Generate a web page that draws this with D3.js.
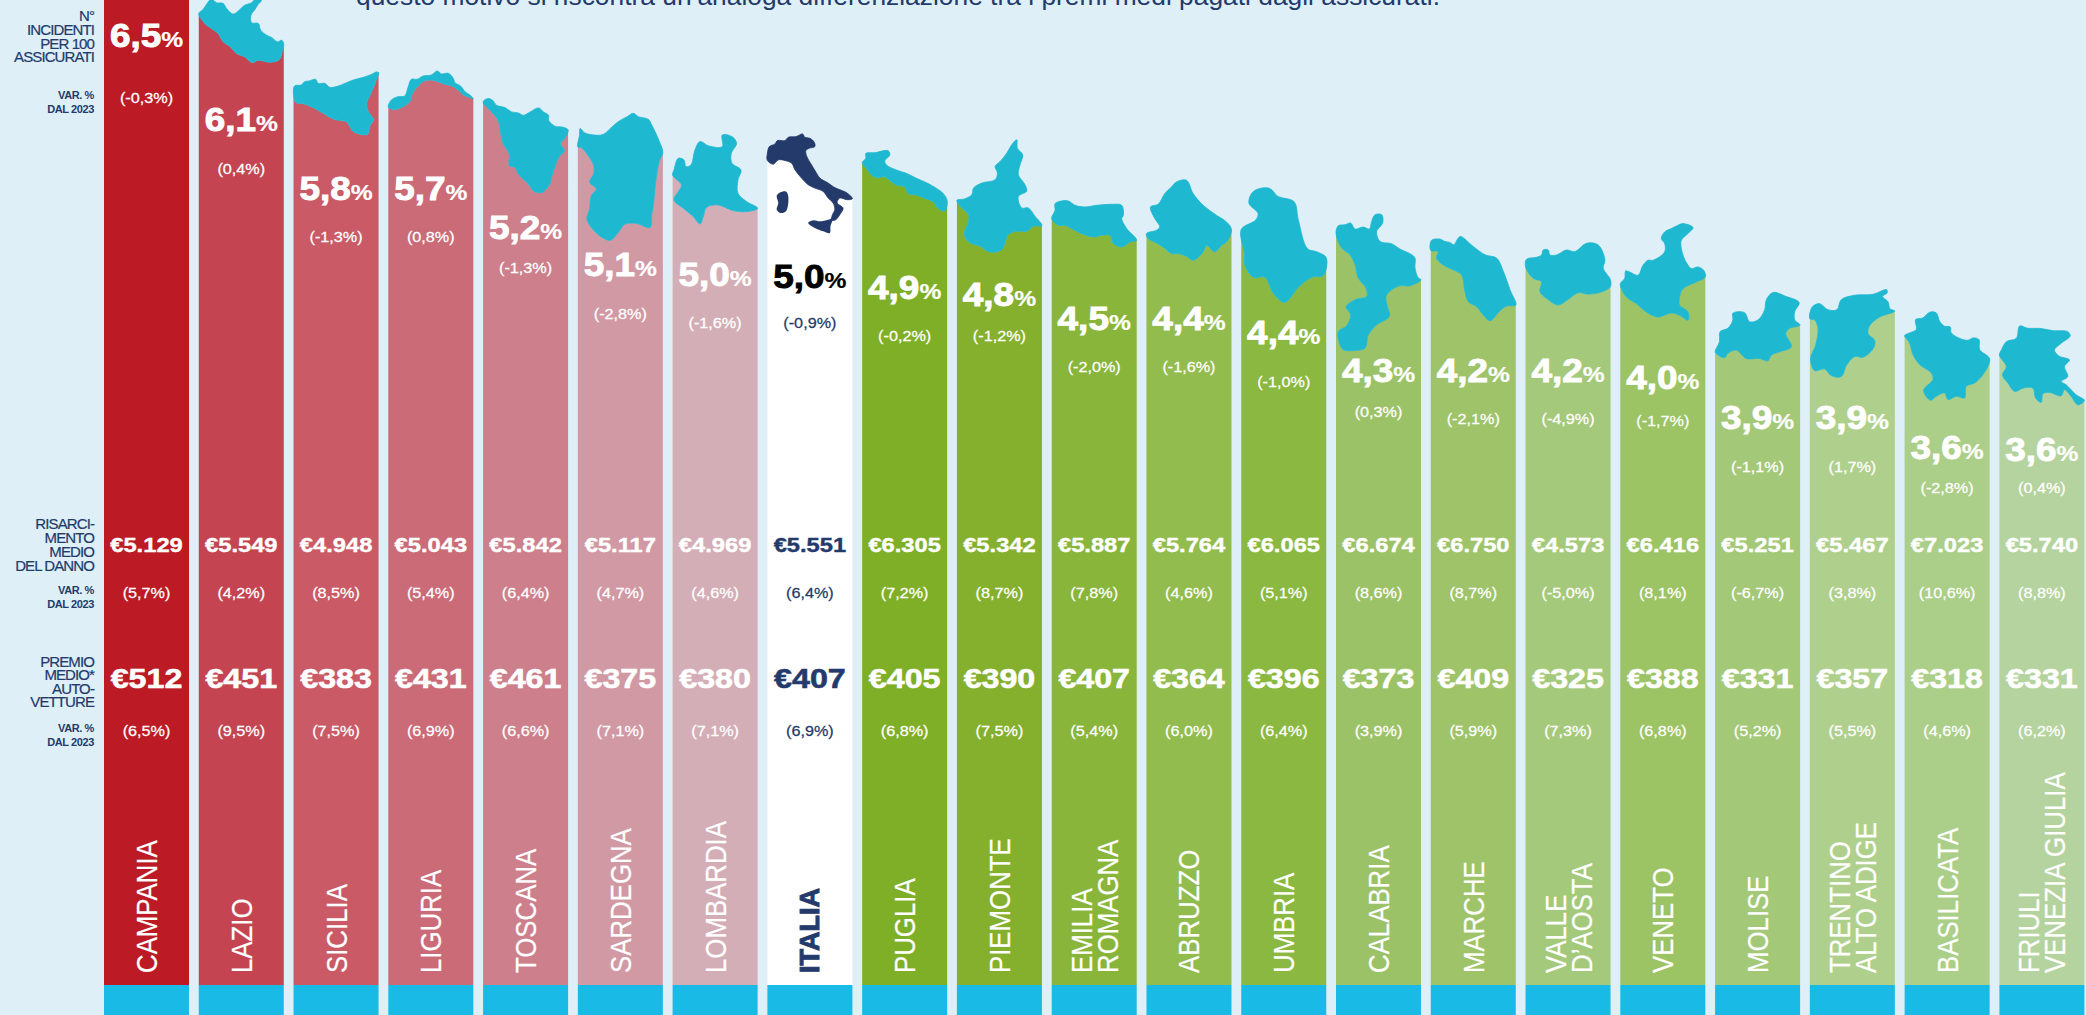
<!DOCTYPE html>
<html>
<head>
<meta charset="utf-8">
<script src="https://cdn.jsdelivr.net/npm/d3@7"></script>
<style>
  html, body { margin: 0; padding: 0; background: #DEEFF7; overflow: hidden; }
  text { font-family: "Liberation Sans", Arial, sans-serif; }
</style>
</head>
<body>
<div id="chart"></div>
<script>
var regions = ["CAMPANIA","LAZIO","SICILIA","LIGURIA","TOSCANA","SARDEGNA","LOMBARDIA","ITALIA","PUGLIA","PIEMONTE","EMILIA|ROMAGNA","ABRUZZO","UMBRIA","CALABRIA","MARCHE","VALLE|D’AOSTA","VENETO","MOLISE","TRENTINO|ALTO ADIGE","BASILICATA","FRIULI|VENEZIA GIULIA"];

// n. incidenti per 100 assicurati + var. %
var rate = [6.5,6.1,5.8,5.7,5.2,5.1,5.0,5.0,4.9,4.8,4.5,4.4,4.4,4.3,4.2,4.2,4.0,3.9,3.9,3.6,3.6];
var rateVar = [-0.3,0.4,-1.3,0.8,-1.3,-2.8,-1.6,-0.9,-0.2,-1.2,-2.0,-1.6,-1.0,0.3,-2.1,-4.9,-1.7,-1.1,1.7,-2.8,0.4];
// risarcimento medio del danno + var. %
var claim = [5129,5549,4948,5043,5842,5117,4969,5551,6305,5342,5887,5764,6065,6674,6750,4573,6416,5251,5467,7023,5740];
var claimVar = [5.7,4.2,8.5,5.4,6.4,4.7,4.6,6.4,7.2,8.7,7.8,4.6,5.1,8.6,8.7,-5.0,8.1,-6.7,3.8,10.6,8.8];
// premio medio autovetture + var. %
var premium = [512,451,383,431,461,375,380,407,405,390,407,364,396,373,409,325,388,331,357,318,331];
var premiumVar = [6.5,9.5,7.5,6.9,6.6,7.1,7.1,6.9,6.8,7.5,5.4,6.0,6.4,3.9,5.9,7.3,6.8,5.2,5.5,4.6,6.2];

// how tall things stand, in % of the chart height
var barHeight = [102,100.2,92.7,92.8,90.0,88.5,86.3,86.4,84.7,85.8,79.6,81.7,80.9,78.2,76.0,75.3,77.3,70.3,70.6,68.3,66.9];
var rateHeight = [96.4,87.9,80.9,80.9,76.9,73.2,72.2,72.0,70.8,70.1,67.7,67.7,66.3,62.4,62.4,62.4,61.7,57.6,57.6,54.6,54.4];
var noteHeight = [90.1,82.9,76.0,76.0,72.8,68.2,67.2,67.2,65.9,65.9,62.8,62.8,61.3,58.2,57.5,57.5,57.3,52.6,52.6,50.5,50.5];

var barColors = ["#BC1A24","#C44551","#C95A66","#CA6B77","#CD808B","#D199A4","#D4AEB6","#FFFFFF","#7FAF27","#84B02E","#89B53B","#92BC4E","#8AB840","#9CC268","#9EC368","#A5C97B","#9CC364","#A3C877","#AFD08C","#ABCE88","#B5D39E"];

var rowLabels = [
  {big: ["N°","INCIDENTI","PER 100","ASSICURATI"], bigY: [16,30,44,57], small: [95,109]},
  {big: ["RISARCI-","MENTO","MEDIO","DEL DANNO"], bigY: [524,538,552,566], small: [590,604]},
  {big: ["PREMIO","MEDIO*","AUTO-","VETTURE"], bigY: [662,675,689,702], small: [728,742]}
];

// region silhouettes, clockwise from the left edge of the bar
var outlines = [
  null,
  [[27,40],[40,28],[52,10],[65,-3],[80,8],[100,10],[110,25],[130,42],[150,28],[165,15],[185,8],[200,-6],[214,2],[205,12],[195,28],[183,45],[185,68],[205,70],[212,90],[230,105],[245,112],[262,125],[275,120],[281,133],[277,150],[268,178],[240,186],[205,180],[187,187],[165,170],[140,160],[122,140],[100,125],[85,100],[65,85],[45,70]],
  [[312,285],[315,258],[335,255],[345,245],[358,243],[378,238],[385,250],[405,250],[420,262],[445,258],[470,248],[490,240],[520,232],[540,225],[560,216],[565,218],[555,250],[540,285],[530,310],[535,335],[550,358],[540,375],[532,402],[505,400],[488,392],[470,365],[435,358],[410,345],[385,330],[365,320],[340,310],[320,308]],
  [[596,322],[605,300],[625,290],[645,288],[655,262],[665,238],[682,238],[700,228],[725,225],[742,213],[755,222],[775,220],[790,235],[795,248],[812,258],[825,275],[840,285],[850,296],[838,292],[820,285],[805,270],[785,258],[765,253],[745,245],[720,240],[700,245],[682,262],[668,280],[660,305],[640,320],[615,328]],
  [[880,305],[895,295],[908,300],[920,315],[945,322],[965,335],[985,338],[1000,345],[1020,335],[1045,323],[1060,335],[1075,345],[1075,360],[1095,378],[1115,380],[1133,388],[1122,415],[1110,430],[1122,450],[1105,470],[1095,495],[1085,525],[1078,550],[1055,575],[1030,570],[1015,550],[985,520],[975,500],[958,495],[958,460],[940,430],[932,395],[925,360],[905,335]],
  [[1165,440],[1170,405],[1172,385],[1185,398],[1215,405],[1240,403],[1262,385],[1285,365],[1312,350],[1330,340],[1345,350],[1375,358],[1385,375],[1395,395],[1408,425],[1418,457],[1408,480],[1400,520],[1395,560],[1390,610],[1385,640],[1380,680],[1340,668],[1305,670],[1285,695],[1262,718],[1235,708],[1205,680],[1192,655],[1200,625],[1205,585],[1220,565],[1200,545],[1212,520],[1212,495],[1195,465],[1175,442]],
  [[1448,525],[1452,510],[1465,475],[1482,480],[1488,500],[1503,495],[1515,450],[1530,425],[1557,438],[1597,440],[1597,405],[1626,410],[1640,430],[1624,460],[1626,490],[1653,510],[1644,540],[1644,580],[1670,605],[1703,625],[1670,635],[1630,632],[1584,615],[1550,622],[1540,650],[1530,672],[1510,650],[1480,625],[1452,600],[1465,575],[1475,555]],
  [[22,92],[22,70],[28,50],[45,42],[52,32],[75,32],[85,22],[108,20],[128,12],[135,22],[150,25],[162,35],[165,50],[148,55],[138,62],[140,78],[155,105],[170,130],[180,145],[205,160],[222,172],[235,178],[262,190],[278,207],[262,210],[240,205],[232,220],[250,235],[240,255],[228,270],[215,272],[218,255],[225,240],[220,220],[205,205],[190,185],[165,175],[145,165],[125,145],[105,120],[95,100],[75,92],[55,90],[40,103]],
  [[307,98],[318,85],[318,70],[345,68],[385,62],[390,75],[375,92],[380,105],[410,120],[440,130],[470,145],[500,158],[530,175],[550,190],[562,212],[555,243],[535,235],[520,215],[495,205],[470,195],[445,190],[435,170],[410,165],[395,155],[375,140],[350,143],[330,130],[320,115]],
  [[590,212],[612,208],[635,195],[640,175],[665,160],[705,150],[712,130],[705,110],[720,95],[740,70],[755,45],[770,30],[772,55],[788,75],[780,105],[775,135],[795,165],[800,185],[775,200],[785,235],[805,235],[825,260],[846,288],[820,290],[800,305],[770,305],[745,315],[725,360],[690,368],[660,350],[630,340],[612,315],[625,275],[625,255],[605,235]],
  [[875,265],[885,240],[885,220],[905,212],[925,212],[945,225],[975,230],[1010,225],[1060,222],[1085,225],[1090,255],[1085,265],[1100,295],[1130,330],[1110,335],[1085,350],[1060,340],[1050,315],[1025,315],[1000,320],[960,308],[935,295],[915,285],[895,285]],
  [[1160,310],[1190,300],[1200,290],[1185,265],[1172,230],[1195,222],[1215,190],[1235,170],[1250,155],[1280,150],[1300,190],[1330,225],[1370,255],[1400,275],[1415,298],[1400,335],[1385,345],[1365,365],[1340,345],[1330,365],[1300,390],[1280,378],[1255,370],[1235,370],[1210,350],[1190,338],[1165,325]],
  [[1624,688],[1667,660],[1674,640],[1647,610],[1660,575],[1707,565],[1734,590],[1781,605],[1794,660],[1821,745],[1850,755],[1877,772],[1868,825],[1834,830],[1794,860],[1754,905],[1721,880],[1694,830],[1660,830],[1635,795],[1634,760]],
  [[18,100],[25,78],[45,75],[62,70],[75,88],[100,82],[118,88],[125,65],[135,45],[155,45],[158,70],[140,95],[150,125],[185,132],[210,148],[245,165],[255,175],[255,205],[265,235],[273,240],[240,258],[210,258],[185,270],[168,290],[172,320],[178,350],[140,375],[115,405],[105,445],[75,452],[40,450],[28,430],[25,395],[50,378],[62,345],[48,322],[75,300],[110,290],[108,265],[85,235],[75,195],[60,165],[35,145]],
  [[303,152],[305,122],[330,118],[345,125],[360,128],[372,135],[385,115],[392,110],[430,140],[465,165],[500,175],[520,215],[540,270],[557,315],[530,318],[510,332],[480,362],[460,345],[440,320],[415,305],[405,275],[395,225],[370,210],[340,195],[320,175],[325,155]],
  [[587,200],[590,178],[620,172],[635,165],[640,150],[655,150],[660,165],[680,165],[710,150],[735,155],[770,130],[805,135],[825,180],[820,205],[842,240],[840,262],[800,280],[770,282],[745,278],[715,298],[685,315],[650,295],[630,275],[635,245],[610,235]],
  [[872,250],[885,235],[888,212],[900,215],[925,225],[940,195],[955,180],[970,180],[1005,155],[1005,130],[995,115],[1005,95],[1025,85],[1045,75],[1060,70],[1090,82],[1075,100],[1055,120],[1055,145],[1062,170],[1072,190],[1085,205],[1105,200],[1122,210],[1127,230],[1100,245],[1060,265],[1050,290],[1050,315],[1075,335],[1075,360],[1050,345],[1025,338],[985,350],[950,335],[920,310],[890,290],[875,265]],
  [[47,245],[60,215],[62,185],[85,175],[100,150],[100,130],[135,128],[150,155],[175,150],[195,120],[200,90],[220,68],[260,80],[298,98],[285,125],[285,150],[301,165],[270,175],[258,190],[275,230],[240,245],[215,255],[205,272],[180,265],[140,265],[110,240],[85,250],[75,263],[50,250]],
  [[331,145],[338,110],[360,100],[385,118],[412,118],[425,88],[465,75],[520,72],[560,58],[562,68],[548,78],[565,95],[570,115],[585,122],[540,140],[510,165],[505,190],[525,210],[520,235],[490,260],[465,258],[440,285],[425,318],[395,315],[375,295],[345,300],[333,265],[348,225],[355,190],[355,170],[345,148]],
  [[615,198],[630,190],[650,180],[648,150],[670,145],[690,128],[710,130],[720,155],[735,170],[752,172],[755,190],[790,210],[805,212],[820,205],[838,210],[840,240],[870,268],[850,315],[825,340],[800,350],[795,385],[770,380],[745,390],[735,370],[710,380],[692,392],[672,362],[700,330],[695,310],[660,285],[640,255],[630,220]],
  [[899,255],[905,240],[920,215],[950,205],[960,168],[985,175],[1020,175],[1060,182],[1105,185],[1112,198],[1085,220],[1065,240],[1078,258],[1110,270],[1095,290],[1105,320],[1085,335],[1100,345],[1130,375],[1155,392],[1135,405],[1115,380],[1095,360],[1085,378],[1050,368],[1030,372],[1025,398],[1008,385],[1000,355],[970,355],[945,365],[925,340],[908,315],[920,290]]
];
var italyIslands = [
  [[50,198],[60,188],[78,185],[85,200],[78,245],[62,250],[50,240],[55,220]],
  [[145,280],[160,272],[180,275],[205,270],[218,268],[212,290],[210,310],[190,305],[165,295]]
];

var NAVY = "#233A6B", CYAN = "#1EB8D1", STRIP = "#19BAE5";
var width = 2086, height = 1015, baseline = 985;

var it = d3.formatLocale({decimal: ",", thousands: ".", grouping: [3], currency: ["€",""], minus: "-"});
var fmtRate = it.format(".1f"), fmtEuro = it.format(",d");
var fmtVar = function(v) { return "(" + fmtRate(v) + "%)"; };

var x = d3.scaleBand().domain(regions).range([104, 2084.4]).paddingInner(0.103).paddingOuter(0);
var y = d3.scaleLinear().domain([0, 100]).range([baseline, 0]);
var closedShape = d3.line().curve(d3.curveCatmullRomClosed.alpha(0.5));
var openShape = d3.line().curve(d3.curveCatmullRom.alpha(0.5));

var svg = d3.select("#chart").append("svg")
    .attr("width", width)
    .attr("height", height)
    .style("display", "block");

svg.append("text")
    .attr("x", 356).attr("y", 4.7)
    .attr("font-size", 26)
    .attr("fill", NAVY)
    .attr("textLength", 1084)
    .attr("lengthAdjust", "spacingAndGlyphs")
    .text("questo motivo si riscontra un’analoga differenziazione tra i premi medi pagati dagli assicurati.");

// left hand row titles
rowLabels.forEach(function(row) {
  row.big.forEach(function(t, i) {
    svg.append("text").attr("x", 94).attr("y", row.bigY[i] + 5.4)
        .attr("text-anchor", "end").attr("font-size", 15).attr("fill", NAVY)
        .attr("stroke", NAVY).attr("stroke-width", 0.2)
        .attr("letter-spacing", "-0.9")
        .text(t);
  });
  ["VAR. %", "DAL 2023"].forEach(function(t, i) {
    svg.append("text").attr("x", 94).attr("y", row.small[i] + 4)
        .attr("text-anchor", "end").attr("font-size", 11).attr("font-weight", "bold").attr("fill", NAVY)
        .attr("letter-spacing", "-0.4")
        .text(t);
  });
});

// maps a traced outline onto the band of its region
function placer(i) {
  var pts = outlines[i];
  var ex = d3.extent(pts, function(p) { return p[0]; });
  var top = d3.min(pts, function(p) { return p[1]; });
  var k = x.bandwidth() / (ex[1] - ex[0]);
  var left = x(regions[i]);
  var y0 = y(barHeight[i]);
  return function(p) { return [left + (p[0] - ex[0]) * k, y0 + (p[1] - top) * k]; };
}

// the bar stops along the lower side of the silhouette
function barPath(d, i) {
  var left = x(d), right = left + x.bandwidth();
  if (!outlines[i]) {
    return "M" + left + "," + y(barHeight[i]) + "H" + right + "V" + baseline + "H" + left + "Z";
  }
  var pts = outlines[i].map(placer(i));
  var iRight = d3.maxIndex(pts, function(p) { return p[0]; });
  var under = pts.slice(iRight).concat([pts[0]]);
  return "M" + right + "," + baseline + "L" + openShape(under).slice(1) + "L" + left + "," + baseline + "Z";
}

svg.selectAll(".bar").data(regions).enter().append("path")
    .attr("class", "bar")
    .attr("d", barPath)
    .attr("fill", function(d, i) { return barColors[i]; });

svg.selectAll(".strip").data(regions).enter().append("rect")
    .attr("class", "strip")
    .attr("x", function(d) { return x(d); })
    .attr("y", baseline)
    .attr("width", x.bandwidth())
    .attr("height", height - baseline)
    .attr("fill", STRIP);

svg.selectAll(".shape").data(regions).enter().filter(function(d, i) { return outlines[i]; }).append("path")
    .attr("class", "shape")
    .attr("d", function(d) {
      var i = regions.indexOf(d);
      return closedShape(outlines[i].map(placer(i)));
    })
    .attr("fill", function(d) { return d === "ITALIA" ? NAVY : CYAN; })
    .attr("stroke", function(d) { return d === "ITALIA" ? NAVY : CYAN; })
    .attr("stroke-width", 0.8);

svg.selectAll(".island").data(italyIslands).enter().append("path")
    .attr("class", "island")
    .attr("d", function(d) { return closedShape(d.map(placer(regions.indexOf("ITALIA")))); })
    .attr("fill", NAVY);

// text stretched sideways like the original, centred on the band
function wide(cx, cy, size, sx, fill, bold, thick) {
  return svg.append("text")
      .attr("text-anchor", "middle")
      .attr("transform", "translate(" + cx + "," + (cy + size * 0.358) + ") scale(" + sx + ",1)")
      .attr("font-size", size)
      .attr("font-weight", bold ? "bold" : "normal")
      .attr("fill", fill)
      .attr("stroke", fill)
      .attr("stroke-width", thick);
}
function cx(d) { return x(d) + x.bandwidth() / 2; }
function ink(d) { return d === "ITALIA" ? NAVY : "#fff"; }

regions.forEach(function(d, i) {
  var rateText = wide(cx(d), y(rateHeight[i]), 33, 1.12, d === "ITALIA" ? "#000" : "#fff", true, 0.9);
  rateText.append("tspan").text(fmtRate(rate[i]));
  rateText.append("tspan").attr("font-size", 22).attr("stroke-width", 0.2).text("%");

  wide(cx(d), y(noteHeight[i]), 15, 1.08, ink(d), false, 0.25).text(fmtVar(rateVar[i]));

  wide(cx(d), 544, 21, 1.13, ink(d), true, 0.4).text("€" + fmtEuro(claim[i]));
  wide(cx(d), 593, 15, 1.08, ink(d), false, 0.25).text(fmtVar(claimVar[i]));

  wide(cx(d), 678, 28, 1.15, ink(d), true, 0.6).text("€" + fmtEuro(premium[i]));
  wide(cx(d), 731, 15, 1.08, ink(d), false, 0.25).text(fmtVar(premiumVar[i]));

  // region name, reading upwards from the foot of the bar
  var lines = d.split("|");
  lines.forEach(function(t, n) {
    var off = (n - (lines.length - 1) / 2) * 26;
    var bold = d === "ITALIA";
    svg.append("text")
        .attr("transform", "translate(" + (cx(d) + off + (bold ? 9.5 : 10.5)) + ",973) rotate(-90) scale(" + (bold ? 1 : 0.89) + ",1)")
        .attr("font-size", bold ? 27 : 29)
        .attr("font-weight", bold ? "bold" : "normal")
        .attr("fill", ink(d))
        .attr("stroke", ink(d))
        .attr("stroke-width", bold ? 0.9 : 0.2)
        .text(t);
  });
});
</script>
</body>
</html>
